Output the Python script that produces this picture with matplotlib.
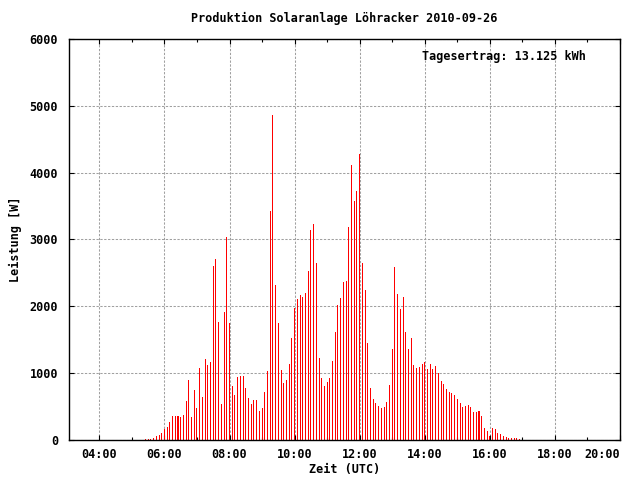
import datetime as dt
import matplotlib
matplotlib.use("Agg")
import matplotlib.pyplot as plt
import matplotlib.dates as mdates
import pandas as pd

# 5-minute power readings [W], starting 05:25 UTC
start = "2010-09-26 05:25"
power = [20, 20, 20, 35, 60, 75, 105, 170, 195, 270, 360, 360, 360, 345, 375, 585, 900, 345, 750,
         480, 1077, 643, 1212, 1122, 1167, 2603, 2708, 1766, 539, 1915, 3037, 1751, 808, 673, 943,
         958, 958, 778, 628, 539, 598, 598, 434,
         479, 718, 1032, 3426, 4863, 2319, 1751, 1047, 853, 898, 1137, 1526, 1975, 2110, 2170, 2140,
         2200, 2529, 3142, 3232, 2648, 1227, 928, 808, 868,
         928, 1182, 1616, 2020, 2125, 2364, 2379, 3187, 4115, 3576, 3726, 4279, 2648, 2244, 1451,
         778, 613, 554, 509, 479, 494, 569, 823, 1362,
         2589, 2185, 1960, 2140, 1616, 1362, 1526, 1122, 1077, 1092, 1137, 1167, 1062, 1137, 1062,
         1107, 1002, 883, 838, 763, 718, 703, 673, 613, 554, 494, 509, 524, 494, 419, 419, 434, 359,
         180, 135, 60, 180, 165, 105, 90, 60, 45, 30, 30, 30, 30, 15]
times = pd.date_range(start, periods=len(power), freq="5min")

title = "Produktion Solaranlage Löhracker 2010-09-26"
yield_text = "Tagesertrag: 13.125 kWh"

font = {"family": "DejaVu Sans Mono", "weight": "bold", "size": 8.5}
plt.rcParams["font.family"] = "DejaVu Sans Mono"
plt.rcParams["font.weight"] = "bold"
plt.rcParams["font.size"] = 8.5

fig = plt.figure(figsize=(6.4, 4.8), dpi=100)
ax = fig.add_axes([69 / 640, 40 / 480, 551 / 640, 401 / 480])

# thin impulses, one pixel wide
ax.bar(times.to_pydatetime(), power, width=1.87 / 1440, color="#ff0000",
       linewidth=0, antialiased=False)

ax.set_xlim(dt.datetime(2010, 9, 26, 3, 4), dt.datetime(2010, 9, 26, 20, 0))
ax.set_ylim(0, 6000)
ax.set_yticks(range(0, 6001, 1000))
ax.xaxis.set_major_locator(mdates.HourLocator(byhour=range(0, 24, 2)))
ax.xaxis.set_minor_locator(mdates.HourLocator())


def fmt(x, pos):
    d = mdates.num2date(x)
    if d.hour == 20:
        return ""
    return d.strftime("%H:%M")


ax.xaxis.set_major_formatter(plt.FuncFormatter(fmt))

ax.grid(True, which="major", color="#a0a0a0", linestyle=(0, (2.2, 1.5)), linewidth=0.75)
ax.set_axisbelow(True)
ax.tick_params(which="both", direction="in", top=True, right=True, width=0.8, color="black")
ax.tick_params(which="major", length=3.6)
ax.tick_params(axis="x", which="major", pad=6)
ax.tick_params(axis="y", which="major", pad=8)
ax.tick_params(which="minor", length=2.0)
for s in ax.spines.values():
    s.set_linewidth(1.0)

# last time label sits flush with the right border
ax.annotate("20:00", xy=(1, 0), xycoords="axes fraction", xytext=(0, -6),
            textcoords="offset points", ha="right", va="top", **font)

ax.set_title(title, pad=12, **font)
ax.set_xlabel("Zeit (UTC)", labelpad=1, **font)
ax.set_ylabel("Leistung [W]", labelpad=5, **font)
ax.text(0.938, 0.957, yield_text, transform=ax.transAxes, ha="right", va="center", **font)

fig.savefig("out.png", dpi=100)
